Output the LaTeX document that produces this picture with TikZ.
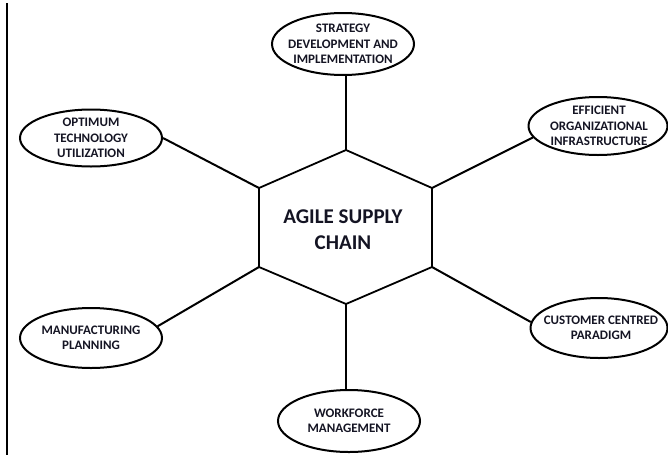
\documentclass[tikz,border=0pt]{standalone}
\usepackage{fontspec}
\setmainfont{Carlito}
\usetikzlibrary{shapes.geometric}
\definecolor{txt}{RGB}{20,20,35}
\tikzset{
  ell/.style={ellipse, draw=black, line width=2pt, minimum width=#1, inner sep=0pt},
  lbl/.style={align=center, font=\bfseries\fontsize{13}{15.5}\selectfont, text=txt, inner sep=0pt},
  conn/.style={draw=black, line width=2pt},
  hexline/.style={draw=black, line width=1.8pt, line join=miter},
}
\begin{document}
\begin{tikzpicture}[x=1pt,y=-1pt]
\useasboundingbox (0,0) rectangle (668,455);
% left border line
\draw[line width=1.4pt] (7,3) -- (7,455);
% hexagon vertices
\coordinate (top) at (346,150);
\coordinate (ur) at (432,188);
\coordinate (lr) at (432,267);
\coordinate (bot) at (346,304);
\coordinate (ll) at (259,267);
\coordinate (ul) at (259,188);
\draw[hexline] (top) -- (ur) -- (lr) -- (bot) -- (ll) -- (ul) -- cycle;
\node[align=center, font=\bfseries\fontsize{21}{26}\selectfont, text=txt, inner sep=0pt] (core) at (343,230) {AGILE SUPPLY\\CHAIN};
% ellipses
\node[ell=142pt, minimum height=62pt, label={[lbl]center:{STRATEGY\\DEVELOPMENT AND\\IMPLEMENTATION}}] (strat) at (343,44) {};
\node[ell=142pt, minimum height=57pt, label={[lbl]center:{OPTIMUM\\TECHNOLOGY\\UTILIZATION}}] (opt) at (91,138) {};
\node[ell=139pt, minimum height=58pt, label={[lbl, xshift=1pt]center:{EFFICIENT\\ORGANIZATIONAL\\INFRASTRUCTURE}}] (eff) at (598,126) {};
\node[ell=142pt, minimum height=60pt, label={[lbl]center:{MANUFACTURING\\PLANNING}}] (man) at (91,338) {};
\node[ell=137pt, minimum height=60pt, label={[lbl, xshift=2pt]center:{CUSTOMER CENTRED\\PARADIGM}}] (cust) at (599,328) {};
\node[ell=142pt, minimum height=62pt, label={[lbl]center:{WORKFORCE\\MANAGEMENT}}] (work) at (349,421) {};
% connectors
\draw[conn] (top) -- (top |- strat.south);
\draw[conn] (ul) -- (opt.east);
\draw[conn] (ur) -- (eff.190);
\draw[conn] (ll) -- (man.10);
\draw[conn] (lr) -- (cust.175);
\draw[conn] (bot) -- (bot |- work.north);
\end{tikzpicture}
\end{document}
